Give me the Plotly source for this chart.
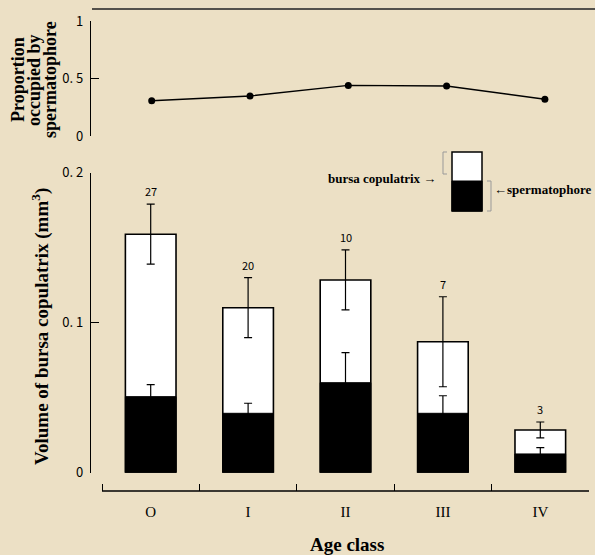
import plotly.graph_objects as go

# ---- data ----
categories = ["O", "I", "II", "III", "IV"]
bursa_volume = [0.159, 0.110, 0.1285, 0.0873, 0.0285]
bursa_err = [0.020, 0.020, 0.020, 0.030, 0.0053]
sperm_volume = [0.0507, 0.0396, 0.060, 0.0396, 0.0125]
sperm_err = [0.008, 0.0067, 0.020, 0.0117, 0.0042]
sample_n = [27, 20, 10, 7, 3]
proportion = [0.307, 0.348, 0.44, 0.435, 0.32]
prop_ticks = [0, 0.5, 1]
vol_ticks = [0, 0.1, 0.2]

BG = "#ece0c5"
W, H = 595, 555
ML, MR, MT, MB = 91, 6, 9, 64
PW, PH = W - ML - MR, H - MT - MB


def px(x):
    return (x - ML) / PW


def py(y):
    return (H - MB - y) / PH


SERIF = "Liberation Serif, DejaVu Serif, serif"
SANS = "Noto Sans CJK JP, Liberation Sans, sans-serif"

fig = go.Figure()

fig.add_trace(go.Bar(
    x=categories, y=bursa_volume, width=0.52,
    marker=dict(color="white", line=dict(color="black", width=1.6)),
    error_y=dict(type="data", array=bursa_err, color="black", thickness=1.2, width=4),
    xaxis="x", yaxis="y", showlegend=False,
))
fig.add_trace(go.Bar(
    x=categories, y=sperm_volume, width=0.52,
    marker=dict(color="black", line=dict(color="black", width=1)),
    error_y=dict(type="data", array=sperm_err, color="black", thickness=1.2, width=4),
    xaxis="x", yaxis="y", showlegend=False,
))
fig.add_trace(go.Scatter(
    x=list(range(len(proportion))), y=proportion, mode="lines+markers",
    line=dict(color="black", width=1.4),
    marker=dict(color="black", size=7),
    xaxis="x2", yaxis="y2", showlegend=False,
))

annotations = []
for c, v, e, n in zip(categories, bursa_volume, bursa_err, sample_n):
    annotations.append(dict(
        x=c, y=v + e, xref="x", yref="y", text=str(n), showarrow=False,
        yanchor="bottom", yshift=3, font=dict(family=SANS, size=11, color="black"),
    ))

for xpos, line in zip([18, 34, 50], ["Proportion", "occupied by", "spermatophore"]):
    annotations.append(dict(
        x=px(xpos), y=py(80), xref="paper", yref="paper", textangle=-90,
        xanchor="center", yanchor="middle",
        text=f"<b>{line}</b>", showarrow=False,
        font=dict(family=SERIF, size=18, color="black")))

annotations += [
    dict(x=px(40), y=py(327), xref="paper", yref="paper", textangle=-90,
         xanchor="center", yanchor="middle",
         text="<b>Volume of bursa copulatrix (mm<sup>3</sup>)</b>", showarrow=False,
         font=dict(family=SERIF, size=19, color="black")),
    dict(x=px(347), y=py(544), xref="paper", yref="paper",
         xanchor="center", yanchor="middle",
         text="<b>Age class</b>", showarrow=False,
         font=dict(family=SERIF, size=19, color="black")),
    dict(x=px(438), y=py(179), xref="paper", yref="paper", xanchor="right", yanchor="middle",
         text="<b>bursa copulatrix →</b>", showarrow=False,
         font=dict(family=SERIF, size=13, color="black")),
    dict(x=px(492), y=py(189), xref="paper", yref="paper", xanchor="left", yanchor="middle",
         text="<b>←spermatophore</b>", showarrow=False,
         font=dict(family=SERIF, size=13, color="black")),
]

shapes = [
    # top rule
    dict(type="line", xref="paper", yref="paper", x0=px(92), x1=px(595), y0=py(9), y1=py(9),
         line=dict(color="#222", width=1.5)),
    # x-axis baseline (starts right of the y axis, as in the original)
    dict(type="line", xref="paper", yref="paper", x0=px(102), x1=1, y0=0, y1=0,
         line=dict(color="black", width=1.3)),
    # legend inset
    dict(type="rect", xref="paper", yref="paper", x0=px(452), x1=px(482), y0=py(152), y1=py(211),
         fillcolor="white", line=dict(color="black", width=1.5)),
    dict(type="rect", xref="paper", yref="paper", x0=px(452), x1=px(482), y0=py(181), y1=py(211),
         fillcolor="black", line=dict(color="black", width=1)),
    # brackets
    dict(type="path", xref="paper", yref="paper",
         path=f"M {px(447)},{py(152)} L {px(443)},{py(152)} L {px(443)},{py(174)} L {px(447)},{py(174)}",
         line=dict(color="#999", width=1)),
    dict(type="path", xref="paper", yref="paper",
         path=f"M {px(487)},{py(181)} L {px(491)},{py(181)} L {px(491)},{py(211)} L {px(487)},{py(211)}",
         line=dict(color="#999", width=1)),
]

CAT_PX = (589 - 102) / 5.0        # pixel width of one age class
X_LEFT = -0.5 - (102 - 91) / CAT_PX

yax_common = dict(
    automargin=False,
    showline=True, linecolor="black", linewidth=1.3,
    ticks="inside", ticklen=8, tickcolor="black", tickwidth=1.3,
    showgrid=False, zeroline=False,
    tickfont=dict(family=SANS, size=13, color="black"),
    ticklabelstandoff=4,
)

fig.update_layout(
    width=W, height=H,
    margin=dict(l=ML, r=MR, t=MT, b=MB, autoexpand=False),
    paper_bgcolor=BG, plot_bgcolor=BG,
    barmode="overlay",
    annotations=annotations,
    shapes=shapes,
    xaxis=dict(
        type="category", domain=[0, 1], range=[X_LEFT, 4.5],
        anchor="free", position=0, automargin=False,
        showline=False,
        ticks="inside", ticklen=7, tickcolor="black", tickwidth=1.2, tickson="boundaries",
        showgrid=False, zeroline=False,
        tickfont=dict(family=SERIF, size=15, color="black"),
        ticklabelstandoff=10,
    ),
    xaxis2=dict(
        domain=[0, 1], range=[-(151.7 - 91) / 98.3, (589 - 151.7) / 98.3], anchor="y2",
        visible=False,
    ),
    yaxis=dict(
        domain=[py(472.7), py(172.7)], range=[0, 0.2], anchor="x",
        tickvals=vol_ticks, ticktext=["0", "0. 1", "0. 2"],
        **yax_common,
    ),
    yaxis2=dict(
        domain=[py(136), py(21)], range=[0, 1], anchor="x2",
        tickvals=prop_ticks, ticktext=["0", "0. 5", "1"],
        **yax_common,
    ),
)

fig.write_html(
    "out.html",
    config={"displayModeBar": False},
    post_script="document.body.style.margin='0';document.body.style.padding='0';",
)
